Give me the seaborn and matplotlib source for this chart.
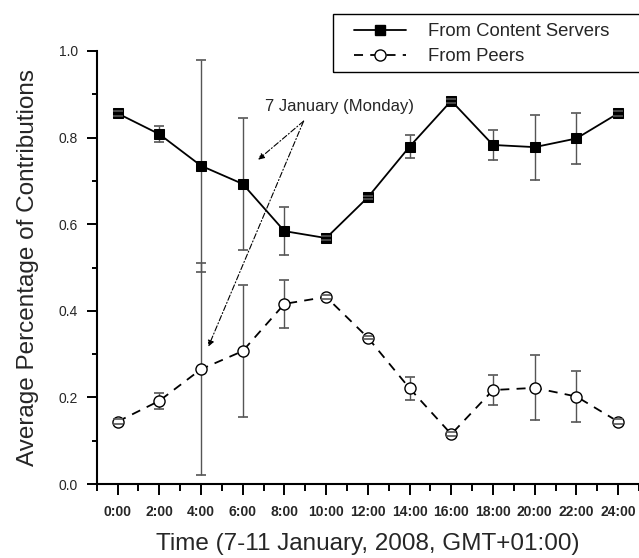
import matplotlib
matplotlib.use("Agg")
import matplotlib.pyplot as plt
import seaborn as sns
import pandas as pd
from matplotlib.lines import Line2D
from matplotlib.patches import Rectangle

# ---- data ----
hours = [0, 2, 4, 6, 8, 10, 12, 14, 16, 18, 20, 22, 24]
tick_labels = ["0:00", "2:00", "4:00", "6:00", "8:00", "10:00", "12:00",
               "14:00", "16:00", "18:00", "20:00", "22:00", "24:00"]
content_servers = [0.856, 0.808, 0.735, 0.693, 0.584, 0.568, 0.662,
                   0.779, 0.885, 0.783, 0.778, 0.798, 0.856]
peers = [0.144, 0.192, 0.265, 0.307, 0.416, 0.432, 0.338,
         0.221, 0.115, 0.217, 0.222, 0.202, 0.144]
errors = [0.005, 0.018, 0.245, 0.153, 0.055, 0.004, 0.004,
          0.027, 0.005, 0.035, 0.075, 0.059, 0.005]
series_names = ["From Content Servers", "From Peers"]
annotation_text = "7 January (Monday)"

sns.set_style("ticks")
plt.rcParams["font.family"] = ["Liberation Sans", "DejaVu Sans"]

W, H = 639, 558
fig = plt.figure(figsize=(6.39, 5.58), dpi=100)
ax = fig.add_axes([96.7 / W, 74 / H, 1 - 96.7 / W, (484 - 51) / H])

df_c = pd.DataFrame({"hour": hours, "value": content_servers})
df_p = pd.DataFrame({"hour": hours, "value": peers})

# error bars (lines beneath markers, caps above)
for vals in (content_servers, peers):
    eb = ax.errorbar(hours, vals, yerr=errors, fmt="none", ecolor="#555555",
                     elinewidth=1.0, capsize=3.8, capthick=1.2, zorder=2)
    for cap in eb[1]:
        cap.set_zorder(5)
        cap.set_color("#222222")

sns.lineplot(data=df_c, x="hour", y="value", ax=ax, color="black", lw=1.3,
             marker="s", markersize=7, markerfacecolor="black",
             markeredgecolor="black", zorder=3)
sns.lineplot(data=df_p, x="hour", y="value", ax=ax, color="black", lw=1.3,
             marker="o", markersize=8, markerfacecolor="white",
             markeredgecolor="black", markeredgewidth=1.0, zorder=3)
ax.lines[-1].set_dashes((5, 4))

# annotation arrows
for tgt in [(6.74, 0.749), (4.35, 0.317)]:
    ax.annotate("", xy=tgt, xytext=(8.92, 0.838),
                arrowprops=dict(arrowstyle="-|>", color="black", lw=0.8,
                                linestyle=(0, (5, 2, 1, 2)),
                                mutation_scale=9, shrinkA=0, shrinkB=0))
ax.text(10.66, 0.872, annotation_text, ha="center", va="center", fontsize=12)

# axes styling
ax.set_xlim(-1, 25)
ax.set_ylim(0, 1.0)
ax.set_xticks(hours)
ax.set_xticklabels(tick_labels, fontsize=10, fontweight="bold")
ax.set_xticks(list(range(-1, 26, 2)), minor=True)
ax.set_yticks([0.0, 0.2, 0.4, 0.6, 0.8, 1.0])
ax.set_yticklabels(["0.0", "0.2", "0.4", "0.6", "0.8", "1.0"], fontsize=10)
ax.set_yticks([0.1, 0.3, 0.5, 0.7, 0.9], minor=True)
ax.tick_params(axis="x", which="major", length=8, width=1.4, color="black", pad=7)
ax.tick_params(axis="x", which="minor", length=5, width=1.4, color="black")
ax.tick_params(axis="y", which="major", length=7, width=1.4, color="black", pad=6.5)
ax.tick_params(axis="y", which="minor", length=3.5, width=1.4, color="black")
for s in ("top", "right"):
    ax.spines[s].set_visible(False)
for s in ("left", "bottom"):
    ax.spines[s].set_linewidth(1.5)
    ax.spines[s].set_color("black")
ax.set_xlabel("Time (7-11 January, 2008, GMT+01:00)", fontsize=17.5, labelpad=10)
ax.set_ylabel("Average Percentage of Contributions", fontsize=17.5, labelpad=14)

# legend (frame drawn separately so it runs off the right edge)
fig.patches.append(Rectangle((333 / W, 1 - 72 / H), (660 - 333) / W, (72 - 14) / H,
                             transform=fig.transFigure, fill=False,
                             edgecolor="black", lw=1.0, zorder=10))
handles = [
    Line2D([], [], color="black", lw=1.3, marker="s", markersize=7),
    Line2D([], [], color="black", lw=1.3, dashes=(5, 4), marker="o", markersize=8,
           markerfacecolor="white", markeredgecolor="black"),
]
leg = fig.legend(handles, series_names, loc="upper left",
                 bbox_to_anchor=(345 / W, 1 - 14 / H), fontsize=13.3,
                 frameon=False, handlelength=2.8, handletextpad=1.2,
                 borderpad=0.5, borderaxespad=0, labelspacing=0.42)

fig.savefig("out.png", dpi=100)
